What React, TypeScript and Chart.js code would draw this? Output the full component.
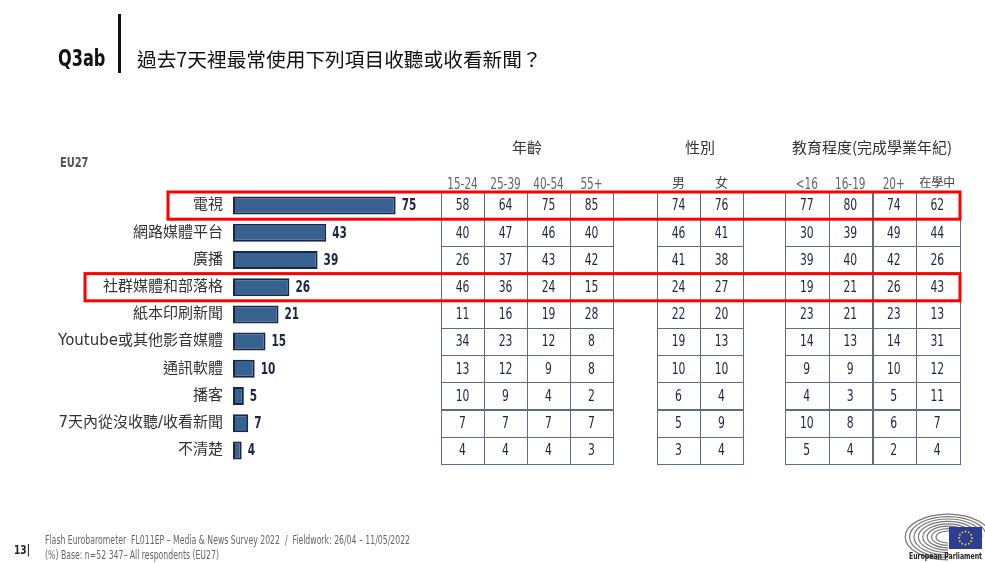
import React, { useEffect, useRef } from "react";
import { Chart, registerables } from "chart.js";

Chart.register(...registerables);

const categories = [
  "電視",
  "網路媒體平台",
  "廣播",
  "社群媒體和部落格",
  "紙本印刷新聞",
  "Youtube或其他影音媒體",
  "通訊軟體",
  "播客",
  "7天內從沒收聽/收看新聞",
  "不清楚",
];
const eu27 = [75, 43, 39, 26, 21, 15, 10, 5, 7, 4];

const groupTitles = ["年齡", "性別", "教育程度(完成學業年紀)"];
const ageLabels = ["15-24", "25-39", "40-54", "55+"];
const age1524 = [58, 40, 26, 46, 11, 34, 13, 10, 7, 4];
const age2539 = [64, 47, 37, 36, 16, 23, 12, 9, 7, 4];
const age4054 = [75, 46, 43, 24, 19, 12, 9, 4, 7, 4];
const age55 = [85, 40, 42, 15, 28, 8, 8, 2, 7, 3];

const genderLabels = ["男", "女"];
const male = [74, 46, 41, 24, 22, 19, 10, 6, 5, 3];
const female = [76, 41, 38, 27, 20, 13, 10, 4, 9, 4];

const eduLabels = ["<16", "16-19", "20+", "在學中"];
const eduU16 = [77, 30, 39, 19, 23, 14, 9, 4, 10, 5];
const edu1619 = [80, 39, 40, 21, 21, 13, 9, 3, 8, 4];
const edu20 = [74, 49, 42, 26, 23, 14, 10, 5, 6, 2];
const eduStill = [62, 44, 26, 43, 13, 31, 12, 11, 7, 4];

const highlightedRows = [0, 3];

const CJK = '"Noto Sans CJK TC", "Noto Sans", sans-serif';
const LABEL_FONT = '"DejaVu Sans", "Noto Sans CJK TC", sans-serif';
const NARROW = '"DejaVu Sans Condensed", "Open Sans", sans-serif';

// layout (pixels)
const groupLayout = [
  { left: 441, width: 43, labels: ageLabels, cols: [age1524, age2539, age4054, age55] },
  { left: 657, width: 43, labels: genderLabels, cols: [male, female] },
  { left: 785, width: 43.5, labels: eduLabels, cols: [eduU16, edu1619, edu20, eduStill] },
];
const highlightLefts = [168, 85];
const highlightRight = 960;

function narrowText(
  ctx: CanvasRenderingContext2D,
  text: string,
  x: number,
  y: number,
  align: CanvasTextAlign,
  font: string,
  color: string,
  sx = 0.82
) {
  ctx.save();
  ctx.translate(x, y);
  ctx.scale(sx, 1);
  ctx.font = font;
  ctx.fillStyle = color;
  ctx.textAlign = align;
  ctx.textBaseline = "middle";
  ctx.fillText(text, 0, 0);
  ctx.restore();
}

const tablePlugin = {
  id: "tablePlugin",
  afterDatasetsDraw(chart: any) {
    const ctx = chart.ctx as CanvasRenderingContext2D;
    const meta = chart.getDatasetMeta(0);
    meta.data.forEach((bar: any, i: number) => {
      narrowText(ctx, String(eu27[i]), bar.x + 6, bar.y + 1, "left", `600 15px ${NARROW}`, "#1b2640", 0.78);
    });
  },
  afterDraw(chart: any) {
    const ctx = chart.ctx as CanvasRenderingContext2D;
    const ys = chart.scales.y;
    const ca = chart.chartArea;
    const n = categories.length;
    const rowH = (ca.bottom - ca.top) / n;
    ctx.save();

    // group titles and column headers
    groupLayout.forEach((g, gi) => {
      const gw = g.width * g.cols.length;
      ctx.fillStyle = "#333";
      ctx.font = `15px ${CJK}`;
      ctx.textAlign = "center";
      ctx.textBaseline = "middle";
      ctx.fillText(groupTitles[gi], g.left + gw / 2, 147);
      g.labels.forEach((lab, ci) => {
        const cjk = /[\u4e00-\u9fff]/.test(lab);
        const cx = g.left + g.width * ci + g.width / 2;
        if (cjk) {
          ctx.font = `${lab.length > 1 ? 12 : 13}px ${CJK}`;
          ctx.fillStyle = "#444";
          ctx.fillText(lab, cx, 182);
        } else {
          narrowText(ctx, lab, cx, 185, "center", `15px ${NARROW}`, "#666", 0.78);
        }
      });
    });

    // cells
    for (let r = 0; r < n; r++) {
      const cy = ys.getPixelForValue(r);
      const top = cy - rowH / 2;
      groupLayout.forEach((g) => {
        g.cols.forEach((col, ci) => {
          const x = g.left + g.width * ci;
          ctx.strokeStyle = "#5d6d88";
          ctx.lineWidth = 1;
          ctx.strokeRect(Math.round(x) + 0.5, Math.round(top) + 0.5, Math.round(g.width), Math.round(rowH));
          narrowText(ctx, String(col[r]), x + g.width / 2, cy + 1, "center", `15px ${NARROW}`, "#1b2640", 0.8);
        });
      });
    }

    // highlight boxes
    ctx.strokeStyle = "#ff0000";
    ctx.lineWidth = 3;
    highlightedRows.forEach((r, k) => {
      const cy = ys.getPixelForValue(r);
      const top = cy - rowH / 2;
      ctx.strokeRect(highlightLefts[k], top, highlightRight - highlightLefts[k], rowH);
    });
    ctx.restore();
  },
};

function Logo() {
  const cx = 948;
  const cy = 537;
  const arcs = [0, 1, 2, 3, 4, 5, 6, 7];
  return (
    <svg width={985} height={563} style={{ position: "absolute", left: 0, top: 0, pointerEvents: "none" }}>
      {arcs.map((k) => {
        const rx = 12 + k * 4.4;
        const ry = 6 + k * 2.4;
        return (
          <path
            key={k}
            d={`M ${cx} ${cy + ry} A ${rx} ${ry} 0 1 1 ${cx + rx} ${cy}`}
            fill="none"
            stroke="#777"
            strokeWidth={1.2}
          />
        );
      })}
      <rect x={949} y={527} width={33} height={22} fill="#2b3d94" />
      {Array.from({ length: 12 }).map((_, i) => {
        const a = (i / 12) * Math.PI * 2;
        return <circle key={i} cx={965.5 + Math.cos(a) * 6.5} cy={538 + Math.sin(a) * 6.5} r={0.9} fill="#ffd800" />;
      })}
      <text
        x={909}
        y={559}
        fontFamily={NARROW}
        fontWeight="bold"
        fontSize={9}
        fill="#222"
        textLength={73}
        lengthAdjust="spacingAndGlyphs"
      >
        European Parliament
      </text>
    </svg>
  );
}

export default function App() {
  const ref = useRef<HTMLCanvasElement>(null);
  useEffect(() => {
    if (!ref.current) return;
    const chart = new Chart(ref.current, {
      type: "bar",
      data: {
        labels: categories,
        datasets: [
          {
            data: eu27,
            backgroundColor: "#37618f",
            borderColor: "#16284a",
            borderWidth: 2,
            borderSkipped: false,
            barPercentage: 0.66,
            categoryPercentage: 1,
          },
        ],
      },
      options: {
        indexAxis: "y",
        responsive: false,
        animation: false,
        layout: { padding: { top: 192, bottom: 99, left: 0, right: 572 } },
        plugins: { legend: { display: false }, tooltip: { enabled: false } },
        scales: {
          x: { display: false, min: 0, max: 83 },
          y: {
            afterFit: (s: any) => {
              s.width = 233;
            },
            grid: { display: false, drawTicks: false },
            border: { display: false },
            ticks: { padding: 10, color: "#333", font: { family: LABEL_FONT, size: 15 } },
          },
        },
      },
      plugins: [tablePlugin],
    } as any);
    return () => chart.destroy();
  }, []);

  const narrowStyle = { transform: "scaleX(0.78)", transformOrigin: "left center" } as const;

  return (
    <div style={{ position: "absolute", left: 0, top: 0, width: 985, height: 563, background: "#fff", overflow: "hidden" }}>
      <canvas ref={ref} width={985} height={563} style={{ position: "absolute", left: 0, top: 0 }} />
      <div style={{ position: "absolute", left: 58, top: 45, fontFamily: NARROW, fontWeight: "bold", fontSize: 23, lineHeight: "26px", color: "#111", ...narrowStyle }}>
        Q3ab
      </div>
      <div style={{ position: "absolute", left: 118, top: 14, width: 3, height: 59, background: "#111" }} />
      <div style={{ position: "absolute", left: 137, top: 46, fontFamily: CJK, fontSize: 19.7, lineHeight: "26px", color: "#111" }}>
        過去7天裡最常使用下列項目收聽或收看新聞？
      </div>
      <div style={{ position: "absolute", left: 60, top: 154, fontFamily: NARROW, fontWeight: "bold", fontSize: 14, lineHeight: "16px", color: "#555", ...narrowStyle }}>
        EU27
      </div>
      <div style={{ position: "absolute", left: 14, top: 543, fontFamily: NARROW, fontWeight: "bold", fontSize: 13, lineHeight: "14px", color: "#222", ...narrowStyle }}>
        13|
      </div>
      <div style={{ position: "absolute", left: 45, top: 533, fontFamily: NARROW, fontSize: 11.5, lineHeight: "15px", color: "#666", whiteSpace: "pre", transform: "scaleX(0.75)", transformOrigin: "left top" }}>
        {"Flash Eurobarometer  FL011EP – Media & News Survey 2022  /  Fieldwork: 26/04 – 11/05/2022\n(%) Base: n=52 347– All respondents (EU27)"}
      </div>
      <Logo />
    </div>
  );
}
